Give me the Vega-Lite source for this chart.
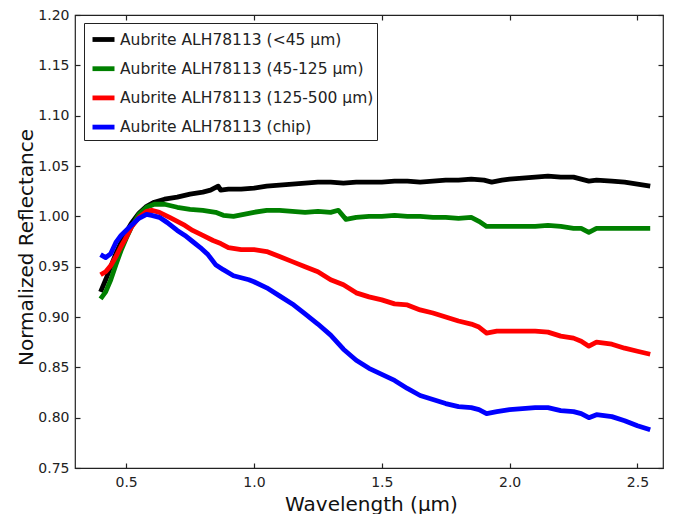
{
"$schema": "https://vega.github.io/schema/vega-lite/v6.json",
"width": 588, "height": 453,
"autosize": {"type": "none"},
"padding": {"left": 75, "top": 15, "right": 10, "bottom": 46},
"background": "white",
"config": {
  "font": "DejaVu Sans",
  "view": {"stroke": "#222", "strokeWidth": 1.2},
  "axis": {"grid": false, "domain": false, "tickColor": "#222", "tickSize": -5, "tickWidth": 1.2, "labelColor": "#222", "labelFontSize": 14, "titleColor": "#111", "titleFontSize": 20, "titleFontWeight": "normal"}
},
"data": {"values": [
{"s":"Aubrite ALH78113 (<45 μm)","wl":0.40,"r":0.925},{"s":"Aubrite ALH78113 (<45 μm)","wl":0.42,"r":0.937},{"s":"Aubrite ALH78113 (<45 μm)","wl":0.44,"r":0.950},{"s":"Aubrite ALH78113 (<45 μm)","wl":0.46,"r":0.963},{"s":"Aubrite ALH78113 (<45 μm)","wl":0.48,"r":0.974},{"s":"Aubrite ALH78113 (<45 μm)","wl":0.50,"r":0.984},{"s":"Aubrite ALH78113 (<45 μm)","wl":0.52,"r":0.993},{"s":"Aubrite ALH78113 (<45 μm)","wl":0.55,"r":1.003},{"s":"Aubrite ALH78113 (<45 μm)","wl":0.58,"r":1.010},{"s":"Aubrite ALH78113 (<45 μm)","wl":0.61,"r":1.014},{"s":"Aubrite ALH78113 (<45 μm)","wl":0.65,"r":1.017},{"s":"Aubrite ALH78113 (<45 μm)","wl":0.70,"r":1.019},{"s":"Aubrite ALH78113 (<45 μm)","wl":0.75,"r":1.022},{"s":"Aubrite ALH78113 (<45 μm)","wl":0.80,"r":1.024},{"s":"Aubrite ALH78113 (<45 μm)","wl":0.83,"r":1.026},{"s":"Aubrite ALH78113 (<45 μm)","wl":0.86,"r":1.030},{"s":"Aubrite ALH78113 (<45 μm)","wl":0.87,"r":1.026},{"s":"Aubrite ALH78113 (<45 μm)","wl":0.90,"r":1.027},{"s":"Aubrite ALH78113 (<45 μm)","wl":0.95,"r":1.027},{"s":"Aubrite ALH78113 (<45 μm)","wl":1.00,"r":1.028},{"s":"Aubrite ALH78113 (<45 μm)","wl":1.05,"r":1.030},{"s":"Aubrite ALH78113 (<45 μm)","wl":1.10,"r":1.031},{"s":"Aubrite ALH78113 (<45 μm)","wl":1.15,"r":1.032},{"s":"Aubrite ALH78113 (<45 μm)","wl":1.20,"r":1.033},{"s":"Aubrite ALH78113 (<45 μm)","wl":1.25,"r":1.034},{"s":"Aubrite ALH78113 (<45 μm)","wl":1.30,"r":1.034},{"s":"Aubrite ALH78113 (<45 μm)","wl":1.35,"r":1.033},{"s":"Aubrite ALH78113 (<45 μm)","wl":1.40,"r":1.034},{"s":"Aubrite ALH78113 (<45 μm)","wl":1.45,"r":1.034},{"s":"Aubrite ALH78113 (<45 μm)","wl":1.50,"r":1.034},{"s":"Aubrite ALH78113 (<45 μm)","wl":1.55,"r":1.035},{"s":"Aubrite ALH78113 (<45 μm)","wl":1.60,"r":1.035},{"s":"Aubrite ALH78113 (<45 μm)","wl":1.65,"r":1.034},{"s":"Aubrite ALH78113 (<45 μm)","wl":1.70,"r":1.035},{"s":"Aubrite ALH78113 (<45 μm)","wl":1.75,"r":1.036},{"s":"Aubrite ALH78113 (<45 μm)","wl":1.80,"r":1.036},{"s":"Aubrite ALH78113 (<45 μm)","wl":1.85,"r":1.037},{"s":"Aubrite ALH78113 (<45 μm)","wl":1.90,"r":1.036},{"s":"Aubrite ALH78113 (<45 μm)","wl":1.93,"r":1.034},{"s":"Aubrite ALH78113 (<45 μm)","wl":1.97,"r":1.036},{"s":"Aubrite ALH78113 (<45 μm)","wl":2.00,"r":1.037},{"s":"Aubrite ALH78113 (<45 μm)","wl":2.05,"r":1.038},{"s":"Aubrite ALH78113 (<45 μm)","wl":2.10,"r":1.039},{"s":"Aubrite ALH78113 (<45 μm)","wl":2.15,"r":1.040},{"s":"Aubrite ALH78113 (<45 μm)","wl":2.20,"r":1.039},{"s":"Aubrite ALH78113 (<45 μm)","wl":2.25,"r":1.039},{"s":"Aubrite ALH78113 (<45 μm)","wl":2.28,"r":1.037},{"s":"Aubrite ALH78113 (<45 μm)","wl":2.31,"r":1.035},{"s":"Aubrite ALH78113 (<45 μm)","wl":2.34,"r":1.036},{"s":"Aubrite ALH78113 (<45 μm)","wl":2.40,"r":1.035},{"s":"Aubrite ALH78113 (<45 μm)","wl":2.45,"r":1.034},{"s":"Aubrite ALH78113 (<45 μm)","wl":2.50,"r":1.032},{"s":"Aubrite ALH78113 (<45 μm)","wl":2.55,"r":1.030},
{"s":"Aubrite ALH78113 (45-125 μm)","wl":0.40,"r":0.918},{"s":"Aubrite ALH78113 (45-125 μm)","wl":0.42,"r":0.925},{"s":"Aubrite ALH78113 (45-125 μm)","wl":0.44,"r":0.937},{"s":"Aubrite ALH78113 (45-125 μm)","wl":0.46,"r":0.952},{"s":"Aubrite ALH78113 (45-125 μm)","wl":0.48,"r":0.966},{"s":"Aubrite ALH78113 (45-125 μm)","wl":0.50,"r":0.978},{"s":"Aubrite ALH78113 (45-125 μm)","wl":0.52,"r":0.989},{"s":"Aubrite ALH78113 (45-125 μm)","wl":0.55,"r":1.002},{"s":"Aubrite ALH78113 (45-125 μm)","wl":0.58,"r":1.009},{"s":"Aubrite ALH78113 (45-125 μm)","wl":0.61,"r":1.012},{"s":"Aubrite ALH78113 (45-125 μm)","wl":0.65,"r":1.012},{"s":"Aubrite ALH78113 (45-125 μm)","wl":0.70,"r":1.009},{"s":"Aubrite ALH78113 (45-125 μm)","wl":0.75,"r":1.007},{"s":"Aubrite ALH78113 (45-125 μm)","wl":0.80,"r":1.006},{"s":"Aubrite ALH78113 (45-125 μm)","wl":0.85,"r":1.004},{"s":"Aubrite ALH78113 (45-125 μm)","wl":0.88,"r":1.001},{"s":"Aubrite ALH78113 (45-125 μm)","wl":0.92,"r":1.000},{"s":"Aubrite ALH78113 (45-125 μm)","wl":0.96,"r":1.002},{"s":"Aubrite ALH78113 (45-125 μm)","wl":1.00,"r":1.004},{"s":"Aubrite ALH78113 (45-125 μm)","wl":1.05,"r":1.006},{"s":"Aubrite ALH78113 (45-125 μm)","wl":1.10,"r":1.006},{"s":"Aubrite ALH78113 (45-125 μm)","wl":1.15,"r":1.005},{"s":"Aubrite ALH78113 (45-125 μm)","wl":1.20,"r":1.004},{"s":"Aubrite ALH78113 (45-125 μm)","wl":1.25,"r":1.005},{"s":"Aubrite ALH78113 (45-125 μm)","wl":1.30,"r":1.004},{"s":"Aubrite ALH78113 (45-125 μm)","wl":1.33,"r":1.006},{"s":"Aubrite ALH78113 (45-125 μm)","wl":1.36,"r":0.997},{"s":"Aubrite ALH78113 (45-125 μm)","wl":1.40,"r":0.999},{"s":"Aubrite ALH78113 (45-125 μm)","wl":1.45,"r":1.000},{"s":"Aubrite ALH78113 (45-125 μm)","wl":1.50,"r":1.000},{"s":"Aubrite ALH78113 (45-125 μm)","wl":1.55,"r":1.001},{"s":"Aubrite ALH78113 (45-125 μm)","wl":1.60,"r":1.000},{"s":"Aubrite ALH78113 (45-125 μm)","wl":1.65,"r":1.000},{"s":"Aubrite ALH78113 (45-125 μm)","wl":1.70,"r":0.999},{"s":"Aubrite ALH78113 (45-125 μm)","wl":1.75,"r":0.999},{"s":"Aubrite ALH78113 (45-125 μm)","wl":1.80,"r":0.998},{"s":"Aubrite ALH78113 (45-125 μm)","wl":1.85,"r":0.999},{"s":"Aubrite ALH78113 (45-125 μm)","wl":1.88,"r":0.995},{"s":"Aubrite ALH78113 (45-125 μm)","wl":1.91,"r":0.990},{"s":"Aubrite ALH78113 (45-125 μm)","wl":1.95,"r":0.990},{"s":"Aubrite ALH78113 (45-125 μm)","wl":2.00,"r":0.990},{"s":"Aubrite ALH78113 (45-125 μm)","wl":2.05,"r":0.990},{"s":"Aubrite ALH78113 (45-125 μm)","wl":2.10,"r":0.990},{"s":"Aubrite ALH78113 (45-125 μm)","wl":2.15,"r":0.991},{"s":"Aubrite ALH78113 (45-125 μm)","wl":2.20,"r":0.990},{"s":"Aubrite ALH78113 (45-125 μm)","wl":2.25,"r":0.988},{"s":"Aubrite ALH78113 (45-125 μm)","wl":2.28,"r":0.988},{"s":"Aubrite ALH78113 (45-125 μm)","wl":2.31,"r":0.984},{"s":"Aubrite ALH78113 (45-125 μm)","wl":2.34,"r":0.988},{"s":"Aubrite ALH78113 (45-125 μm)","wl":2.40,"r":0.988},{"s":"Aubrite ALH78113 (45-125 μm)","wl":2.45,"r":0.988},{"s":"Aubrite ALH78113 (45-125 μm)","wl":2.50,"r":0.988},{"s":"Aubrite ALH78113 (45-125 μm)","wl":2.55,"r":0.988},
{"s":"Aubrite ALH78113 (125-500 μm)","wl":0.40,"r":0.942},{"s":"Aubrite ALH78113 (125-500 μm)","wl":0.42,"r":0.945},{"s":"Aubrite ALH78113 (125-500 μm)","wl":0.44,"r":0.951},{"s":"Aubrite ALH78113 (125-500 μm)","wl":0.46,"r":0.960},{"s":"Aubrite ALH78113 (125-500 μm)","wl":0.48,"r":0.970},{"s":"Aubrite ALH78113 (125-500 μm)","wl":0.50,"r":0.979},{"s":"Aubrite ALH78113 (125-500 μm)","wl":0.52,"r":0.989},{"s":"Aubrite ALH78113 (125-500 μm)","wl":0.55,"r":0.999},{"s":"Aubrite ALH78113 (125-500 μm)","wl":0.58,"r":1.005},{"s":"Aubrite ALH78113 (125-500 μm)","wl":0.60,"r":1.006},{"s":"Aubrite ALH78113 (125-500 μm)","wl":0.63,"r":1.004},{"s":"Aubrite ALH78113 (125-500 μm)","wl":0.67,"r":0.999},{"s":"Aubrite ALH78113 (125-500 μm)","wl":0.70,"r":0.995},{"s":"Aubrite ALH78113 (125-500 μm)","wl":0.73,"r":0.991},{"s":"Aubrite ALH78113 (125-500 μm)","wl":0.76,"r":0.986},{"s":"Aubrite ALH78113 (125-500 μm)","wl":0.80,"r":0.981},{"s":"Aubrite ALH78113 (125-500 μm)","wl":0.84,"r":0.976},{"s":"Aubrite ALH78113 (125-500 μm)","wl":0.87,"r":0.973},{"s":"Aubrite ALH78113 (125-500 μm)","wl":0.90,"r":0.969},{"s":"Aubrite ALH78113 (125-500 μm)","wl":0.95,"r":0.967},{"s":"Aubrite ALH78113 (125-500 μm)","wl":1.00,"r":0.967},{"s":"Aubrite ALH78113 (125-500 μm)","wl":1.05,"r":0.965},{"s":"Aubrite ALH78113 (125-500 μm)","wl":1.10,"r":0.960},{"s":"Aubrite ALH78113 (125-500 μm)","wl":1.15,"r":0.955},{"s":"Aubrite ALH78113 (125-500 μm)","wl":1.20,"r":0.950},{"s":"Aubrite ALH78113 (125-500 μm)","wl":1.25,"r":0.945},{"s":"Aubrite ALH78113 (125-500 μm)","wl":1.30,"r":0.937},{"s":"Aubrite ALH78113 (125-500 μm)","wl":1.35,"r":0.932},{"s":"Aubrite ALH78113 (125-500 μm)","wl":1.40,"r":0.924},{"s":"Aubrite ALH78113 (125-500 μm)","wl":1.45,"r":0.920},{"s":"Aubrite ALH78113 (125-500 μm)","wl":1.50,"r":0.917},{"s":"Aubrite ALH78113 (125-500 μm)","wl":1.55,"r":0.913},{"s":"Aubrite ALH78113 (125-500 μm)","wl":1.60,"r":0.912},{"s":"Aubrite ALH78113 (125-500 μm)","wl":1.65,"r":0.907},{"s":"Aubrite ALH78113 (125-500 μm)","wl":1.70,"r":0.904},{"s":"Aubrite ALH78113 (125-500 μm)","wl":1.75,"r":0.900},{"s":"Aubrite ALH78113 (125-500 μm)","wl":1.80,"r":0.896},{"s":"Aubrite ALH78113 (125-500 μm)","wl":1.85,"r":0.893},{"s":"Aubrite ALH78113 (125-500 μm)","wl":1.88,"r":0.890},{"s":"Aubrite ALH78113 (125-500 μm)","wl":1.91,"r":0.884},{"s":"Aubrite ALH78113 (125-500 μm)","wl":1.95,"r":0.886},{"s":"Aubrite ALH78113 (125-500 μm)","wl":2.00,"r":0.886},{"s":"Aubrite ALH78113 (125-500 μm)","wl":2.05,"r":0.886},{"s":"Aubrite ALH78113 (125-500 μm)","wl":2.10,"r":0.886},{"s":"Aubrite ALH78113 (125-500 μm)","wl":2.15,"r":0.885},{"s":"Aubrite ALH78113 (125-500 μm)","wl":2.20,"r":0.881},{"s":"Aubrite ALH78113 (125-500 μm)","wl":2.25,"r":0.879},{"s":"Aubrite ALH78113 (125-500 μm)","wl":2.28,"r":0.876},{"s":"Aubrite ALH78113 (125-500 μm)","wl":2.31,"r":0.871},{"s":"Aubrite ALH78113 (125-500 μm)","wl":2.34,"r":0.875},{"s":"Aubrite ALH78113 (125-500 μm)","wl":2.40,"r":0.873},{"s":"Aubrite ALH78113 (125-500 μm)","wl":2.45,"r":0.869},{"s":"Aubrite ALH78113 (125-500 μm)","wl":2.50,"r":0.866},{"s":"Aubrite ALH78113 (125-500 μm)","wl":2.55,"r":0.863},
{"s":"Aubrite ALH78113 (chip)","wl":0.40,"r":0.962},{"s":"Aubrite ALH78113 (chip)","wl":0.42,"r":0.959},{"s":"Aubrite ALH78113 (chip)","wl":0.44,"r":0.963},{"s":"Aubrite ALH78113 (chip)","wl":0.46,"r":0.974},{"s":"Aubrite ALH78113 (chip)","wl":0.48,"r":0.981},{"s":"Aubrite ALH78113 (chip)","wl":0.50,"r":0.986},{"s":"Aubrite ALH78113 (chip)","wl":0.52,"r":0.991},{"s":"Aubrite ALH78113 (chip)","wl":0.55,"r":0.998},{"s":"Aubrite ALH78113 (chip)","wl":0.58,"r":1.002},{"s":"Aubrite ALH78113 (chip)","wl":0.60,"r":1.001},{"s":"Aubrite ALH78113 (chip)","wl":0.63,"r":0.999},{"s":"Aubrite ALH78113 (chip)","wl":0.66,"r":0.994},{"s":"Aubrite ALH78113 (chip)","wl":0.70,"r":0.986},{"s":"Aubrite ALH78113 (chip)","wl":0.73,"r":0.981},{"s":"Aubrite ALH78113 (chip)","wl":0.76,"r":0.975},{"s":"Aubrite ALH78113 (chip)","wl":0.79,"r":0.969},{"s":"Aubrite ALH78113 (chip)","wl":0.82,"r":0.962},{"s":"Aubrite ALH78113 (chip)","wl":0.85,"r":0.952},{"s":"Aubrite ALH78113 (chip)","wl":0.88,"r":0.947},{"s":"Aubrite ALH78113 (chip)","wl":0.92,"r":0.941},{"s":"Aubrite ALH78113 (chip)","wl":0.95,"r":0.939},{"s":"Aubrite ALH78113 (chip)","wl":0.98,"r":0.937},{"s":"Aubrite ALH78113 (chip)","wl":1.00,"r":0.935},{"s":"Aubrite ALH78113 (chip)","wl":1.05,"r":0.929},{"s":"Aubrite ALH78113 (chip)","wl":1.10,"r":0.921},{"s":"Aubrite ALH78113 (chip)","wl":1.15,"r":0.913},{"s":"Aubrite ALH78113 (chip)","wl":1.20,"r":0.903},{"s":"Aubrite ALH78113 (chip)","wl":1.25,"r":0.893},{"s":"Aubrite ALH78113 (chip)","wl":1.30,"r":0.882},{"s":"Aubrite ALH78113 (chip)","wl":1.35,"r":0.868},{"s":"Aubrite ALH78113 (chip)","wl":1.40,"r":0.857},{"s":"Aubrite ALH78113 (chip)","wl":1.45,"r":0.849},{"s":"Aubrite ALH78113 (chip)","wl":1.50,"r":0.843},{"s":"Aubrite ALH78113 (chip)","wl":1.55,"r":0.837},{"s":"Aubrite ALH78113 (chip)","wl":1.60,"r":0.829},{"s":"Aubrite ALH78113 (chip)","wl":1.65,"r":0.822},{"s":"Aubrite ALH78113 (chip)","wl":1.70,"r":0.818},{"s":"Aubrite ALH78113 (chip)","wl":1.75,"r":0.814},{"s":"Aubrite ALH78113 (chip)","wl":1.80,"r":0.811},{"s":"Aubrite ALH78113 (chip)","wl":1.85,"r":0.810},{"s":"Aubrite ALH78113 (chip)","wl":1.88,"r":0.808},{"s":"Aubrite ALH78113 (chip)","wl":1.91,"r":0.804},{"s":"Aubrite ALH78113 (chip)","wl":1.95,"r":0.806},{"s":"Aubrite ALH78113 (chip)","wl":2.00,"r":0.808},{"s":"Aubrite ALH78113 (chip)","wl":2.05,"r":0.809},{"s":"Aubrite ALH78113 (chip)","wl":2.10,"r":0.810},{"s":"Aubrite ALH78113 (chip)","wl":2.15,"r":0.810},{"s":"Aubrite ALH78113 (chip)","wl":2.20,"r":0.807},{"s":"Aubrite ALH78113 (chip)","wl":2.25,"r":0.806},{"s":"Aubrite ALH78113 (chip)","wl":2.28,"r":0.804},{"s":"Aubrite ALH78113 (chip)","wl":2.31,"r":0.800},{"s":"Aubrite ALH78113 (chip)","wl":2.34,"r":0.803},{"s":"Aubrite ALH78113 (chip)","wl":2.40,"r":0.801},{"s":"Aubrite ALH78113 (chip)","wl":2.45,"r":0.797},{"s":"Aubrite ALH78113 (chip)","wl":2.50,"r":0.792},{"s":"Aubrite ALH78113 (chip)","wl":2.55,"r":0.788}
]},
"layer": [
  {
    "mark": {"type": "line", "strokeWidth": 4.8, "strokeJoin": "round"},
    "encoding": {
      "x": {"field": "wl", "type": "quantitative", "scale": {"domain": [0.3, 2.6], "nice": false, "zero": false},
            "axis": {"orient": "bottom", "values": [0.5, 1.0, 1.5, 2.0, 2.5], "format": ".1f", "labelPadding": 12, "title": "Wavelength (μm)", "titleX": 296, "titleY": 42, "titleBaseline": "alphabetic"}},
      "y": {"field": "r", "type": "quantitative", "scale": {"domain": [0.75, 1.20], "nice": false, "zero": false},
            "axis": {"orient": "left", "values": [0.75, 0.80, 0.85, 0.90, 0.95, 1.00, 1.05, 1.10, 1.15, 1.20], "format": ".2f", "labelPadding": 11, "title": "Normalized Reflectance", "titleX": -43, "titleY": 232, "titleBaseline": "alphabetic"}},
      "color": {"field": "s", "type": "nominal",
        "scale": {"domain": ["Aubrite ALH78113 (<45 μm)", "Aubrite ALH78113 (45-125 μm)", "Aubrite ALH78113 (125-500 μm)", "Aubrite ALH78113 (chip)"], "range": ["#000000", "#008000", "#ff0000", "#0000ff"]},
        "legend": {"orient": "none", "legendX": 9, "legendY": 8, "title": null, "symbolType": "stroke", "symbolStrokeWidth": 4.8, "symbolSize": 484, "symbolOffset": 3, "labelFontSize": 15.5, "labelColor": "#222", "strokeColor": "#222", "fillColor": "white", "padding": 3, "rowPadding": 5.2, "labelOffset": 3, "cornerRadius": 0, "labelLimit": 400}}
    }
  },
  {
    "mark": {"type": "line", "strokeOpacity": 0},
    "encoding": {
      "x": {"field": "wl", "type": "quantitative", "scale": {"domain": [0.3, 2.6], "nice": false, "zero": false},
            "axis": {"orient": "top", "values": [0.5, 1.0, 1.5, 2.0, 2.5], "labels": false, "title": null}},
      "y": {"field": "r", "type": "quantitative", "scale": {"domain": [0.75, 1.20], "nice": false, "zero": false},
            "axis": {"orient": "right", "values": [0.75, 0.80, 0.85, 0.90, 0.95, 1.00, 1.05, 1.10, 1.15, 1.20], "labels": false, "title": null}},
      "detail": {"field": "s"}
    }
  }
],
"resolve": {"axis": {"x": "independent", "y": "independent"}}
}
